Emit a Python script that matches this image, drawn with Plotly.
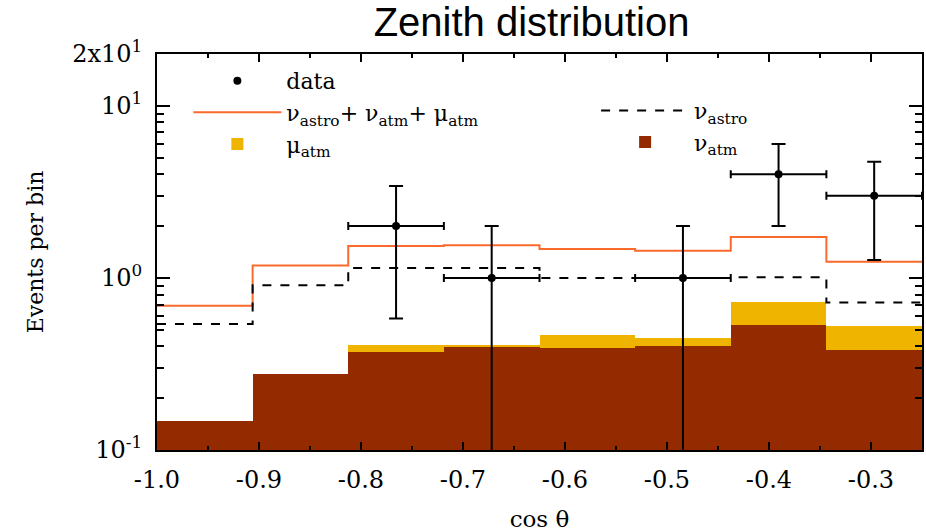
import plotly.graph_objects as go

# cos(theta) binning: 8 equal bins from -1.0 to -0.25
bin_edges = [-1.0, -0.90625, -0.8125, -0.71875, -0.625, -0.53125, -0.4375, -0.34375, -0.25]

# expected events per bin
total_expected = [0.69, 1.18, 1.53, 1.55, 1.47, 1.44, 1.73, 1.24]
nu_astro = [0.54, 0.905, 1.14, 1.14, 1.00, 1.00, 1.01, 0.72]
nu_atm = [0.148, 0.278, 0.371, 0.402, 0.392, 0.403, 0.533, 0.380]
mu_atm = [0.0, 0.0, 0.035, 0.008, 0.076, 0.044, 0.193, 0.146]

# observed events (bin index, count, error)
data_bins = [2, 3, 5, 6, 7]
data_counts = [2, 1, 1, 4, 3]
data_err = [1.42, 1.0, 1.0, 2.0, 1.73]

x_tick_vals = [-1.0, -0.9, -0.8, -0.7, -0.6, -0.5, -0.4, -0.3]
x_tick_text = ["-1.0", "-0.9", "-0.8", "-0.7", "-0.6", "-0.5", "-0.4", "-0.3"]
y_tick_vals = [0.1, 1, 10, 20]
y_tick_text = ["10<sup>-1</sup>", "10<sup>0</sup>", "10<sup>1</sup>", "2x10<sup>1</sup>"]
y_minor_vals = [0.2, 0.3, 0.4, 0.5, 0.6, 0.7, 0.8, 0.9, 2, 3, 4, 5, 6, 7, 8, 9]

centers = [(a + b) / 2 for a, b in zip(bin_edges[:-1], bin_edges[1:])]
widths = [b - a for a, b in zip(bin_edges[:-1], bin_edges[1:])]
data_x = [centers[i] for i in data_bins]
data_xerr = [widths[i] / 2 for i in data_bins]

SERIF = "DejaVu Serif"
ORANGE = "#FA6A2C"
YELLOW = "#EFB400"
BROWN = "#932A00"

fig = go.Figure()

fig.add_trace(go.Bar(
    x=centers, y=nu_atm, width=widths, name="ν<sub>atm</sub>",
    marker=dict(color=BROWN, line=dict(width=0)),
    legend="legend2", legendrank=2,
))
fig.add_trace(go.Bar(
    x=centers, y=mu_atm, width=widths, name="μ<sub>atm</sub>",
    marker=dict(color=YELLOW, line=dict(width=0)),
    legend="legend", legendrank=3,
))

# step lines over the bin edges
fig.add_trace(go.Scatter(
    x=bin_edges, y=total_expected + total_expected[-1:], mode="lines",
    line=dict(color=ORANGE, width=2, shape="hv"),
    name="ν<sub>astro</sub>+ ν<sub>atm</sub>+ μ<sub>atm</sub>",
    legend="legend", legendrank=2,
))
fig.add_trace(go.Scatter(
    x=bin_edges, y=nu_astro + nu_astro[-1:], mode="lines",
    line=dict(color="black", width=2, dash="dash", shape="hv"),
    name="ν<sub>astro</sub>",
    legend="legend2", legendrank=1,
))

fig.add_trace(go.Scatter(
    x=data_x, y=data_counts, mode="markers", name="data",
    marker=dict(color="black", size=8),
    error_x=dict(type="data", array=data_xerr, color="black", thickness=2, width=4),
    error_y=dict(type="data", array=data_err, color="black", thickness=2, width=7),
    legend="legend", legendrank=1,
))

axis_common = dict(
    showline=True, linecolor="black", linewidth=2, mirror="ticks",
    ticks="inside", tickcolor="black", tickwidth=2, showgrid=False, zeroline=False,
)

fig.update_layout(
    width=926, height=532,
    margin=dict(l=157, r=2, t=54, b=77),
    paper_bgcolor="white", plot_bgcolor="white",
    barmode="stack", bargap=0,
    font=dict(family=SERIF, color="black", size=20),
    title=dict(
        text="Zenith distribution", font=dict(family="Liberation Sans", size=40, color="black"),
        x=0.574, xref="container", xanchor="center",
        y=0.958, yref="container", yanchor="middle",
    ),
    xaxis=dict(
        range=[-1.0, -0.25], tickvals=x_tick_vals, ticktext=x_tick_text,
        ticklen=8, tickfont=dict(size=24), ticklabelstandoff=7,
        minor=dict(dtick=0.05, tick0=-1.0, ticklen=4, ticks="inside", tickwidth=1.5, tickcolor="black"),
        title=dict(text="cos θ", font=dict(size=23), standoff=20),
        **axis_common,
    ),
    yaxis=dict(
        type="log", range=[-1, 1.30103], tickvals=y_tick_vals, ticktext=y_tick_text,
        ticklen=13, tickfont=dict(size=24), ticklabelstandoff=8,
        title=dict(text="Events per bin", font=dict(size=22), standoff=22),
        **axis_common,
    ),
    yaxis2=dict(
        type="log", range=[-1, 1.30103], overlaying="y", anchor="x", side="left",
        tickvals=y_minor_vals, ticks="inside", ticklen=7, tickwidth=1.5, tickcolor="black",
        mirror="ticks", showticklabels=False, showgrid=False, showline=False, zeroline=False,
    ),
    legend=dict(
        x=0.041, y=0.985, xanchor="left", yanchor="top", bgcolor="rgba(0,0,0,0)",
        itemwidth=88, font=dict(size=22), tracegroupgap=0, traceorder="normal",
    ),
    legend2=dict(
        x=0.574, y=0.91, xanchor="left", yanchor="top", bgcolor="rgba(0,0,0,0)",
        itemwidth=88, font=dict(size=22), tracegroupgap=0, traceorder="normal",
    ),
    showlegend=True,
)

# carries the minor y ticks only
fig.add_trace(go.Scatter(x=[None], y=[None], yaxis="y2", showlegend=False, hoverinfo="skip"))

fig.write_html("out.html")
